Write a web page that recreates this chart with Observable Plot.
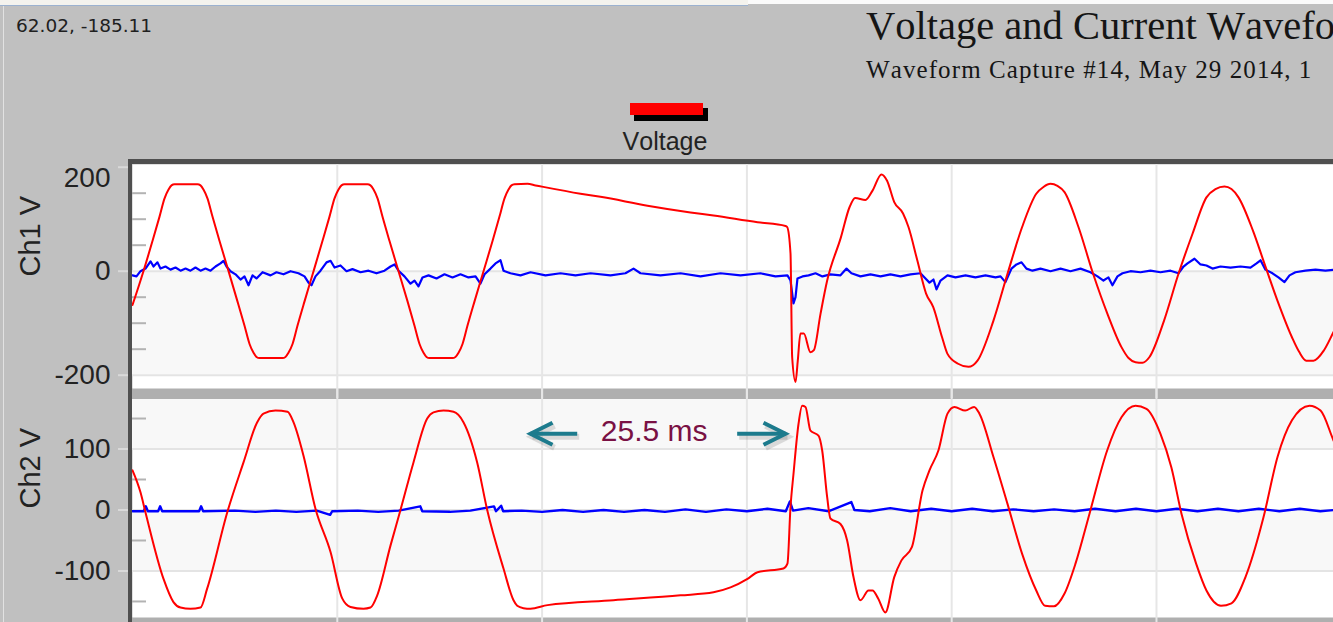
<!DOCTYPE html>
<html>
<head>
<meta charset="utf-8">
<script src="https://cdn.jsdelivr.net/npm/d3@7"></script>
<script src="https://cdn.jsdelivr.net/npm/@observablehq/plot@0.6"></script>
<style>
  html, body { margin: 0; padding: 0; width: 1333px; height: 622px; overflow: hidden; background: #c0c0c0; }
  #root { position: relative; width: 1333px; height: 622px; overflow: hidden; background: #c0c0c0; }
  #root > div { position: absolute; }
  .txt { white-space: nowrap; line-height: 1; font-kerning: none; }
  #root svg { max-width: none !important; }
</style>
</head>
<body>
<div id="root">
  <div style="left:0;top:0;width:748px;height:5px;background:#f4f3ee;border-bottom:1px solid #9cb2d0;"></div>
  <div style="left:748px;top:0;width:585px;height:4px;background:#fbfbfb;"></div>
  <div style="left:3px;top:6px;width:1px;height:616px;background:#e2e2e2;"></div>
  <div class="txt" id="coord" style="left:16px;top:17px;font-family:'DejaVu Sans';font-size:18.5px;color:#202020;"></div>
  <div class="txt" id="title" style="left:866px;top:6px;font-family:'Liberation Serif';font-size:40.5px;color:#151515;"></div>
  <div class="txt" id="subtitle" style="left:866px;top:57px;font-family:'Liberation Serif';font-size:25px;letter-spacing:1.1px;color:#151515;"></div>
  <div style="left:634px;top:108px;width:74px;height:13px;background:#000;"></div>
  <div style="left:630px;top:103px;width:73px;height:12px;background:#ff0000;"></div>
  <div class="txt" id="legend" style="left:565px;width:200px;text-align:center;top:129px;font-family:'Liberation Sans';font-size:25px;color:#222;"></div>
  <div style="left:132px;top:388px;width:1201px;height:11px;background:#afafaf;"></div>
  <div style="left:132px;top:617px;width:1201px;height:5px;background:#afafaf;"></div>
  <div id="plot1" style="left:0;top:159px;width:1400px;"></div>
  <div id="plot2" style="left:0;top:388px;width:1400px;"></div>
  <div style="left:128px;top:159px;width:1205px;height:5px;background:#4f4f4f;"></div>
  <div style="left:128px;top:159px;width:4px;height:463px;background:#4f4f4f;"></div>
</div>
<script>
// ---------- texts ----------
const cursorReadout = "62.02, -185.11";
const titleText = "Voltage and Current Waveforms";
const subtitleText = "Waveform Capture #14, May 29 2014, 1";
const legendLabel = "Voltage";
const ch1Label = "Ch1 V";
const ch2Label = "Ch2 V";

// ---------- axes (time in ms, values in V) ----------
const timeDomain = [0, 123.83];
const timeGrid = [20, 40, 60, 80, 100, 120];
const ch1Domain = [-225.6, 205.2];
const ch1Major = [0, -200];
const ch1TopTick = [200];
const ch1Minor = [150, 100, 50, -50, -100, -150];
const ch1Shade = [[-200, 0]];
const ch2Domain = [-176.3, 181.2];
const ch2Major = [100, 0, -100];
const ch2Minor = [150, 50, -50, -150];
const ch2Shade = [[100, 250], [-100, 0]];

// ---------- series [time ms, volts] ----------
const ch1Voltage = [[0,-65],
[1.07,0],[1.95,58],[2.64,105],[3.13,140],[3.52,157],[3.81,165],[4.10,167],[6.35,167],[6.64,165],[6.93,157],[7.32,140],[7.81,105],[8.50,58],[9.38,0],[10.25,-58],[10.94,-105],[11.43,-140],[11.82,-157],[12.11,-165],[12.40,-167],[14.65,-167],[14.94,-165],[15.23,-157],[15.63,-140],[16.11,-105],[16.80,-58],
[17.68,0],[18.55,58],[19.24,105],[19.73,140],[20.12,157],[20.41,165],[20.70,167],[22.95,167],[23.24,165],[23.54,157],[23.93,140],[24.41,105],[25.10,58],[25.98,0],[26.86,-58],[27.54,-105],[28.03,-140],[28.42,-157],[28.71,-165],[29.00,-167],[31.25,-167],[31.54,-165],[31.84,-157],[32.23,-140],[32.71,-105],[33.40,-58],
[34.28,0],[35.16,58],[35.84,105],[36.33,140],[36.72,157],[37.01,165],[37.30,167],[38.57,168],[39.36,165],
[43.75,149],[45.70,143],[50.29,126],[54.49,113],[56.74,107],[61.04,94],[63.77,87],
[63.93,85],[64.26,34],[64.42,-165],[64.75,-213],[64.97,-172],[65.23,-120],[65.56,-120],[66.21,-156],[66.54,-152],[67.19,-82],[67.84,-18],[69.18,65],[70.02,123],[70.57,141],[71.58,137],[72.27,155],[73.14,186],[73.69,174],[74.39,133],[75.25,111],[75.78,85],[76.64,21],[77.50,-43],[78.20,-69],[79.06,-127],[79.59,-159],[80.62,-178],[81.64,-184],[82.52,-172],[84.08,-95],[85.45,-5],
[86.88,85],[88.26,149],[88.96,162],[89.65,168],[90.33,164],[91.02,152],[92.38,85],[93.81,-5],[95.21,-82],[96.58,-146],[97.27,-167],[97.95,-175],[98.63,-176],[99.32,-165],[100.74,-95],[102.15,-5],[103.52,72],[104.88,142],[105.76,158],[106.64,163],[107.32,158],[108.01,142],[109.42,78],[110.45,20],[111.82,-57],[113.23,-127],[113.93,-155],[114.63,-172],[115.33,-172],[116.36,-152],[117.29,-117],[118.46,-73]];

const ch1Current = [[0,-8],[0.39,-10],[0.78,0],[1.27,5],[1.76,19],[2.05,9],[2.44,17],[2.73,5],[3.22,9],[3.71,3],[4.20,7],[4.69,1],[5.18,5],[5.66,1],[6.15,7],[6.64,1],[7.13,5],[7.62,1],[8.11,9],[8.59,15],[8.89,20],[9.18,9],[9.57,0],[10.06,-6],[10.55,-16],[10.94,-10],[11.33,-27],[11.72,-8],[12.11,-14],[12.70,-2],[13.48,-8],[14.06,-2],[14.75,-6],[15.43,0],[16.21,-4],[16.80,-10],[17.19,-22],[17.48,-27],[17.87,-10],[18.36,1],[18.95,17],[19.34,20],[19.73,7],[20.31,11],[20.90,0],[21.48,4],[22.27,-2],[23.05,1],[23.83,-4],[24.61,1],[25.20,9],[25.59,13],[25.98,1],[26.56,-10],[27.15,-24],[27.54,-18],[27.93,-29],[28.32,-12],[28.91,-8],[29.69,-14],[30.47,-6],[31.25,-12],[32.03,-6],[32.81,-12],[33.50,-10],[33.98,-24],[34.38,-6],[34.96,5],[35.45,15],[35.94,21],[36.23,1],[36.91,-4],[37.89,-8],[38.87,-2],[40.33,-8],[41.80,-4],[43.26,-8],[44.73,-4],[46.68,-8],[48.14,-4],[48.93,5],[49.61,-4],[51.56,-8],[53.52,-4],[55.47,-10],[57.42,-4],[59.38,-8],[61.33,-4],[62.79,-10],[63.96,-8],[64.26,-18],[64.55,-62],[64.75,-50],[64.94,-14],[65.43,-10],[66.02,-8],[66.70,-4],[67.38,-10],[68.16,-6],[69.14,-8],[69.73,5],[70.21,-4],[71.09,-10],[72.07,-6],[73.05,-10],[74.02,-6],[75.00,-10],[75.98,-6],[76.95,-4],[77.44,-14],[77.83,-22],[78.22,-16],[78.52,-35],[78.91,-18],[79.59,-8],[80.37,-12],[81.35,-8],[82.32,-12],[83.30,-8],[84.28,-12],[84.77,-10],[85.25,-21],[85.84,5],[86.33,13],[86.82,17],[87.30,5],[87.89,1],[88.67,5],[89.65,0],[90.63,5],[91.60,0],[92.58,5],[93.55,-2],[94.24,-10],[94.82,-18],[95.31,-12],[95.70,-27],[96.19,-10],[96.68,-4],[97.46,0],[98.44,-2],[99.41,1],[100.39,-2],[101.37,1],[102.15,-4],[102.64,9],[103.03,15],[103.71,24],[104.30,13],[104.88,11],[105.47,5],[106.25,9],[107.23,7],[108.20,9],[109.18,7],[109.77,15],[110.16,21],[110.64,3],[111.33,-4],[111.91,-12],[112.50,-21],[112.99,-8],[113.57,-2],[114.55,1],[115.53,3],[116.50,1],[117.48,3]];

const ch2Voltage = [[0,65],[0.78,29],[1.27,-4],[3.03,-113],[4.00,-151],[4.69,-160],[5.66,-162],[6.64,-160],[7.29,-129],[9.25,-4],[10.84,78],[12.18,144],[12.79,158],[13.96,163],[15.14,161],[15.72,144],[16.70,89],[17.87,2],[19.34,-69],[20.48,-145],[21.29,-159],[22.56,-162],[23.24,-160],[23.90,-140],[25.20,-58],[26.17,0],[27.44,78],[28.78,150],[29.39,160],[30.37,163],[31.35,161],[32.32,144],[33.66,78],[34.64,0],[36.23,-96],[37.21,-148],[37.57,-157],[38.18,-161],[38.87,-162],[40.53,-156],[46.97,-148],[53.52,-140],[56.74,-135],[58.40,-127],[60.06,-113],[61.04,-102],[63.57,-96],[63.96,-88],[64.26,5],[64.55,59],[65.04,141],[65.40,171],[65.72,169],[66.21,130],[66.99,122],[67.35,98],[67.84,21],[68.16,-14],[69.14,-23],[69.79,-50],[70.41,-110],[71.09,-148],[71.88,-132],[72.27,-132],[72.82,-145],[73.52,-168],[74.39,-110],[75.08,-83],[76.11,-61],[77.15,32],[77.83,65],[78.71,98],[79.59,158],[80.27,169],[81.32,163],[82.19,169],[82.71,158],[84.08,87],[85.45,10],[86.88,-72],[88.26,-132],[89.12,-157],[89.99,-158],[91.02,-137],[92.09,-88],[93.46,-6],[95.19,98],[96.58,152],[97.95,171],[99.02,166],[100.39,125],[101.45,70],[102.44,-6],[103.87,-88],[104.88,-132],[106.30,-157],[107.32,-153],[108.69,-110],[110.45,-12],[111.82,87],[113.23,147],[114.94,171],[116.02,163],[117.29,114],[118.46,70]];

const ch2Current = [[0,-2],[1.1,-2],[1.3,6],[1.5,-2],[2.5,-2],[2.7,6],[2.9,-2],[6.5,-2],[6.7,6],[6.9,-2],[10,-1],[12,-3],[14,-1],[16,-3],[18,-1],[19.3,-8],[19.5,-2],[22,-1],[24,-3],[26,-1],[28.1,6],[28.3,-2],[31,-3],[33,-1],[35.3,6],[35.5,-2],[36,7],[36.2,-2],[38,-1],[40,-3],[42,0],[44,-3],[46,0],[48,-3],[50,0],[52,-3],[54,1],[56,-3],[58,1],[60,-2],[62,2],[63.8,-2],[64.2,14],[64.5,-1],[66,3],[68,-2],[70.2,13],[70.5,0],[72,-2],[74,3],[76,-2],[78,2],[80,-2],[82,2],[84,-2],[86,1],[88,-2],[90,1],[92,-2],[94,2],[96,-2],[98,2],[100,-2],[102,2],[104,-2],[106,2],[108,-2],[110,2],[112,-2],[114,2],[116,-2],[118,1]];

// ---------- annotation ----------
const annArrows = [{x1: 43.43, x2: 38.87, y: 125}, {x1: 59.05, x2: 63.77, y: 125}];
const annLabels = [{x: 50.94, y: 128.7, text: "25.5 ms"}];

document.getElementById("coord").textContent = cursorReadout;
document.getElementById("title").textContent = titleText;
document.getElementById("subtitle").textContent = subtitleText;
document.getElementById("legend").textContent = legendLabel;

const T = d => d[0], V = d => d[1];
const baseStyle = {fontFamily: '"Liberation Sans", Arial, sans-serif', fontSize: "28px", color: "#222", background: "transparent", overflow: "visible", maxWidth: "none"};
const chevron = {draw(ctx, size) { const r = Math.sqrt(size / Math.PI); ctx.moveTo(r, -0.5 * r); ctx.lineTo(0, 0); ctx.lineTo(r, 0.5 * r); }};

const plot1 = Plot.plot({
  width: 1400, height: 239, marginLeft: 132, marginRight: 0, marginTop: 5, marginBottom: 10,
  x: {domain: timeDomain, axis: null},
  y: {domain: ch1Domain, axis: null},
  style: baseStyle,
  marks: [
    Plot.frame({fill: "#ffffff", stroke: "none"}),
    Plot.rect(ch1Shade, {x1: timeDomain[0], x2: timeDomain[1], y1: d => d[0], y2: d => d[1], fill: "#f8f8f8", clip: true}),
    Plot.ruleY(ch1Major, {stroke: "#e4e4e4", strokeWidth: 2}),
    Plot.ruleX(timeGrid, {stroke: "#e6e6e6", strokeWidth: 2, insetBottom: -10}),
    Plot.axisY(ch1Minor, {tickSize: 14, dx: 14, tickFormat: () => "", stroke: "#b3b3b3", strokeWidth: 2, label: null}),
    Plot.axisY(ch1Major, {tickSize: 14, tickPadding: 8, tickFormat: d => String(d), stroke: "#d9d9d9", strokeWidth: 2, fill: "#222", label: null}),
    Plot.axisY(ch1TopTick, {tickSize: 14, tickFormat: () => "", stroke: "#d9d9d9", strokeWidth: 2, label: null}),
    Plot.axisY(ch1TopTick, {tickSize: 0, tickPadding: 22, dy: 11, tickFormat: d => String(d), fill: "#222", label: null}),
    Plot.text([ch1Label], {frameAnchor: "left", rotate: -90, dx: -102, fontSize: 29, fill: "#222"}),
    Plot.line(ch1Current, {x: T, y: V, stroke: "#0000ff", strokeWidth: 2.2, clip: true}),
    Plot.line(ch1Voltage, {x: T, y: V, stroke: "#ff0000", strokeWidth: 2, curve: "monotone-x", clip: true})
  ]
});
document.getElementById("plot1").appendChild(plot1);

const plot2 = Plot.plot({
  width: 1400, height: 234, marginLeft: 132, marginRight: 0, marginTop: 11, marginBottom: 5,
  x: {domain: timeDomain, axis: null},
  y: {domain: ch2Domain, axis: null},
  style: baseStyle,
  marks: [
    Plot.frame({fill: "#ffffff", stroke: "none"}),
    Plot.rect(ch2Shade, {x1: timeDomain[0], x2: timeDomain[1], y1: d => d[0], y2: d => d[1], fill: "#f8f8f8", clip: true}),
    Plot.ruleY(ch2Major, {stroke: "#e4e4e4", strokeWidth: 2}),
    Plot.ruleX(timeGrid, {stroke: "#e6e6e6", strokeWidth: 2, insetTop: -11, insetBottom: -5}),
    Plot.axisY(ch2Minor, {tickSize: 14, dx: 14, tickFormat: () => "", stroke: "#b3b3b3", strokeWidth: 2, label: null}),
    Plot.axisY(ch2Major, {tickSize: 14, tickPadding: 8, tickFormat: d => String(d), stroke: "#d9d9d9", strokeWidth: 2, fill: "#222", label: null}),
    Plot.text([ch2Label], {frameAnchor: "left", rotate: -90, dx: -102, fontSize: 29, fill: "#222"}),
    Plot.line(ch2Current, {x: T, y: V, stroke: "#0000ff", strokeWidth: 2.4, clip: true}),
    Plot.line(ch2Voltage, {x: T, y: V, stroke: "#ff0000", strokeWidth: 2, curve: "monotone-x", clip: true}),
    // annotation: shadow, shafts, heads, label
    Plot.link(annArrows, {x1: "x1", x2: "x2", y1: "y", y2: "y", stroke: "#000", strokeOpacity: 0.12, strokeWidth: 6, dx: 2, dy: 3}),
    Plot.dot(annArrows, {x: "x2", y: "y", r: 22, symbol: chevron, rotate: d => d.x2 < d.x1 ? 0 : 180, fill: "none", stroke: "#000", strokeOpacity: 0.12, strokeWidth: 6, dx: 2, dy: 3}),
    Plot.link(annArrows, {x1: "x1", x2: "x2", y1: "y", y2: "y", stroke: "#1c7b8d", strokeWidth: 4}),
    Plot.dot(annArrows, {x: "x2", y: "y", r: 22, symbol: chevron, rotate: d => d.x2 < d.x1 ? 0 : 180, fill: "none", stroke: "#1c7b8d", strokeWidth: 4, strokeLinejoin: "miter"}),
    Plot.text(annLabels, {x: "x", y: "y", text: "text", fontSize: 30, fill: "#7a1144"})
  ]
});
document.getElementById("plot2").appendChild(plot2);
</script>
</body>
</html>
